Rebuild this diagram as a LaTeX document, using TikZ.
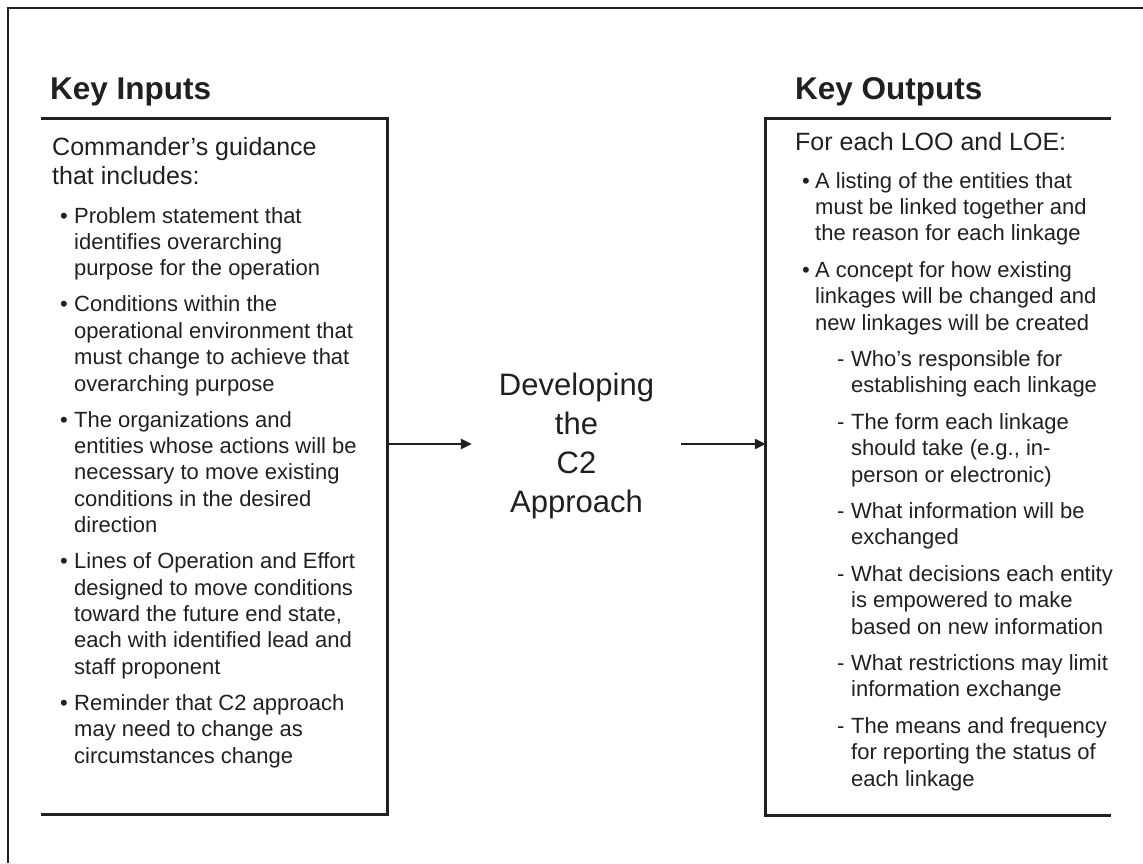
\documentclass[tikz,border=0pt]{standalone}
\usepackage{fontspec}
\setmainfont{Liberation Sans}
\usetikzlibrary{arrows.meta}
\definecolor{ink}{RGB}{35,31,32}
\begin{document}
\begin{tikzpicture}[x=1pt,y=-1pt,
  frameline/.style={draw=ink,line width=2pt},
  boxline/.style={draw=ink,line width=3pt},
  txt/.style={anchor=base west,inner sep=0pt,text=ink,font=\fontsize{22}{26}\selectfont},
  head/.style={anchor=base west,inner sep=0pt,text=ink,font=\fontsize{25}{29}\selectfont},
  ttl/.style={anchor=base west,inner sep=0pt,text=ink,font=\fontsize{31.5}{36}\selectfont\bfseries},
  flow/.style={draw=ink,line width=2.5pt,-{Triangle[length=11pt,width=10pt]}}]
\useasboundingbox (0,0) rectangle (1143,863);
% outer frame (only top and left visible)
\coordinate (fa) at (8,863);
\coordinate (fb) at (8,8);
\coordinate (fc) at (1143,8);
\draw[frameline] (fa) -- (fb) -- (fc);
% boxes
\node[inner sep=0pt,minimum width=346pt,minimum height=695pt] (lbox) at (214,466.5) {};
\node[inner sep=0pt,minimum width=345pt,minimum height=696pt] (rbox) at (938.5,467) {};
\draw[boxline] (lbox.north west) -- (lbox.north east) -- (lbox.south east) -- (lbox.south west);
\draw[boxline] (rbox.north east) -- (rbox.north west) -- (rbox.south west) -- (rbox.south east);
% titles
\node[ttl] (kin) at (50,99) {Key Inputs};
\node[ttl] (kout) at (795,99) {Key Outputs};
% centre
\node[inner sep=0pt,minimum width=209pt,align=center,text=ink,
  font=\fontsize{31}{39}\selectfont] (dev) at (576.5,446) {Developing\\the\\C2\\Approach};
\coordinate (ay) at (0,444);
\draw[flow] (lbox.east |- ay) -- (dev.west |- ay);
\draw[flow] (dev.east |- ay) -- (rbox.west |- ay);
% left box text
\node[head] (lh1) at (52,155) {Commander’s guidance};
\node[head] (lh2) at (52,184) {that includes:};
\foreach \y/\n in {223/1,311.8/2,427/3,568.6/4,710.2/5}
  \node[txt] (lbul\n) at (60,\y) {•};
\foreach \t [count=\k from 0] in {Problem statement that,identifies overarching,purpose for the operation}
  \node[txt] (la\k) at (74,223+26.4*\k) {\t};
\foreach \t [count=\k from 0] in {Conditions within the,operational environment that,must change to achieve that,overarching purpose}
  \node[txt] (lb\k) at (74,311.8+26.4*\k) {\t};
\foreach \t [count=\k from 0] in {The organizations and,entities whose actions will be,necessary to move existing,conditions in the desired,direction}
  \node[txt] (lc\k) at (74,427+26.4*\k) {\t};
\foreach \t [count=\k from 0] in {Lines of Operation and Effort,designed to move conditions,{toward the future end state,},each with identified lead and,staff proponent}
  \node[txt] (ld\k) at (74,568.6+26.4*\k) {\t};
\foreach \t [count=\k from 0] in {Reminder that C2 approach,may need to change as,circumstances change}
  \node[txt] (le\k) at (74,710.2+26.4*\k) {\t};
% right box text
\node[head] (rh) at (795,150) {For each LOO and LOE:};
\foreach \y/\n in {188/1,277.2/2}
  \node[txt] (rbul\n) at (802,\y) {•};
\foreach \t [count=\k from 0] in {A listing of the entities that,must be linked together and,the reason for each linkage}
  \node[txt] (ra\k) at (815,188+26.4*\k) {\t};
\foreach \t [count=\k from 0] in {A concept for how existing,linkages will be changed and,new linkages will be created}
  \node[txt] (rb\k) at (815,277.2+26.4*\k) {\t};
\foreach \y/\n in {366.4/1,429.2/2,518.4/3,581.2/4,670.4/5,733.2/6}
  \node[txt] (rdash\n) at (837,\y) {-};
\foreach \t [count=\k from 0] in {Who’s responsible for,establishing each linkage}
  \node[txt] (rc\k) at (851,366.4+26.4*\k) {\t};
\foreach \t [count=\k from 0] in {The form each linkage,{should take (e.g., in-},person or electronic)}
  \node[txt] (rd\k) at (851,429.2+26.4*\k) {\t};
\foreach \t [count=\k from 0] in {What information will be,exchanged}
  \node[txt] (re\k) at (851,518.4+26.4*\k) {\t};
\foreach \t [count=\k from 0] in {What decisions each entity,is empowered to make,based on new information}
  \node[txt] (rf\k) at (851,581.2+26.4*\k) {\t};
\foreach \t [count=\k from 0] in {What restrictions may limit,information exchange}
  \node[txt] (rg\k) at (851,670.4+26.4*\k) {\t};
\foreach \t [count=\k from 0] in {The means and frequency,for reporting the status of,each linkage}
  \node[txt] (rh\k) at (851,733.2+26.4*\k) {\t};
\end{tikzpicture}
\end{document}
